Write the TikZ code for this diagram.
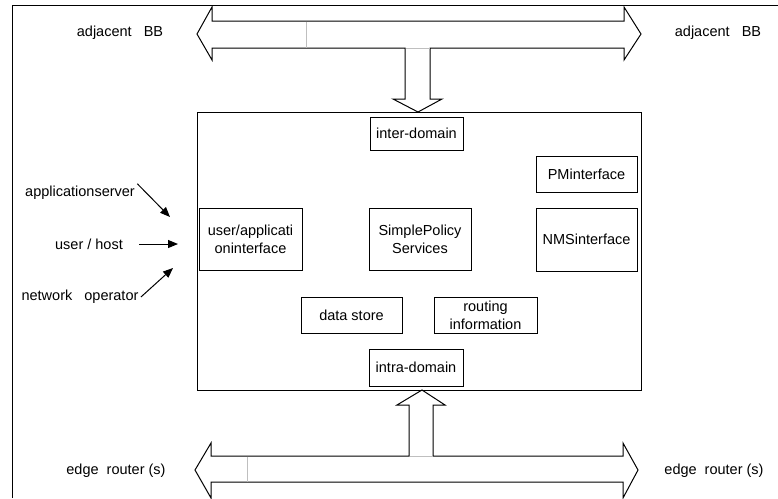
\documentclass[tikz,border=0pt]{standalone}
\usepackage{fontspec}
\setmainfont{Liberation Sans}
\usetikzlibrary{arrows.meta}

\begin{document}
\begin{tikzpicture}[x=1pt,y=-1pt,line width=1pt,
    font=\fontsize{14.5}{18}\selectfont,
    seam/.style={line width=.8pt,black!25},
    feed/.style={-{Triangle[length=10pt,width=8pt]}}]

        \useasboundingbox (0,0) rectangle (778,498);
        \draw (12,498) -- (12,5) -- (778,5);

        % block arrows
        \draw[fill=white] (197,34) -- (212,7) -- (212,21) -- (624,21) -- (624,7) -- (641,34)
          -- (624,60) -- (624,48) -- (430,48) -- (430,99) -- (442,99) -- (418,112)
          -- (393,99) -- (405,99) -- (405,48) -- (212,48) -- (212,60) -- cycle;
        \draw[fill=white] (195,470) -- (211,443) -- (211,456) -- (409,456) -- (409,405)
          -- (397,405) -- (422,390) -- (445,405) -- (433,405) -- (433,456) -- (623,456)
          -- (623,443) -- (638,470) -- (623,498) -- (623,482) -- (211,482) -- (211,498) -- cycle;
        \draw[seam] (306,21.5) -- (306,47.5);
        \draw[seam] (405.5,48) -- (429.5,48);
        \draw[seam] (247,456.5) -- (247,481.5);
        \draw[seam] (409.5,456) -- (432.5,456);

        \node[draw,minimum width=444pt,minimum height=278pt] (domain) at (419,251) {};

        \begin{scope}[every node/.style={draw,align=center,inner sep=1pt}]
          \node[minimum width=93pt,minimum height=33pt]  (inter)   at (416.5,133.5) {inter-domain};
          \node[minimum width=101pt,minimum height=36pt] (pmif)    at (586.5,174)   {PMinterface};
          \node[minimum width=101pt,minimum height=63pt] (nmsif)   at (586.5,239.5) {NMSinterface};
          \node[minimum width=103pt,minimum height=62pt] (userif)  at (250.5,239)   {user/applicati\\oninterface};
          \node[minimum width=102pt,minimum height=62pt] (sps)     at (420,239)     {SimplePolicy\\Services};
          \node[minimum width=101pt,minimum height=36pt] (store)   at (351.5,315)   {data store};
          \node[minimum width=103pt,minimum height=36pt] (routing) at (485.5,315)   {routing\\information};
          \node[minimum width=94pt,minimum height=37pt]  (intra)   at (416,367.5)   {intra-domain};
        \end{scope}

        \begin{scope}[every node/.style={inner sep=2pt}]
          \node (bbl)    at (120,33)  {adjacent\ \ \ BB};
          \node (bbr)    at (718,33)  {adjacent\ \ \ BB};
          \node (edgel)  at (116,471) {edge\ \ router (s)};
          \node (edger)  at (714,471) {edge\ \ router (s)};
          \node (appsrv) at (80,193)  {applicationserver};
          \node (host)   at (89,244)  {user / host};
          \node (netop)  at (80,297)  {network\ \ \ operator};
        \end{scope}

        \coordinate (appin)  at (170,217);
        \coordinate (hostin) at (178,244);
        \coordinate (netin)  at (173,268);

        \draw[feed] (appsrv.north east) -- (appin);
        \draw[feed] ([xshift=14pt]host.east) -- (hostin);
        \draw[feed] (netop.east) -- (netin);

      \end{tikzpicture}
\end{document}
